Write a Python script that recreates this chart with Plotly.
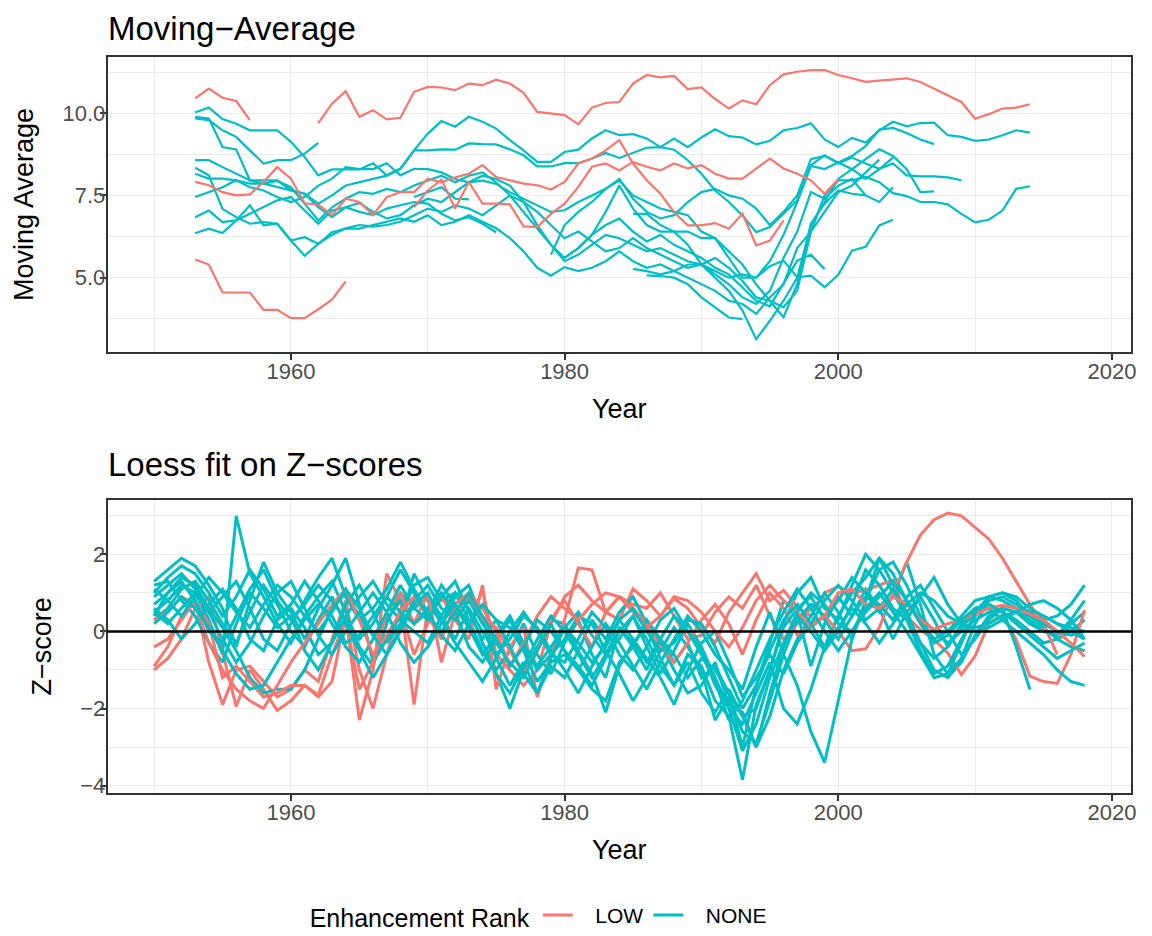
import plotly.graph_objects as go

# colours of the two ranks (ggplot default hue palette)
LOW_COLOR = "#F8766D"
NONE_COLOR = "#00BFC4"

# -------------------------------
# Moving average series (start year, values), None = gap
# -------------------------------
ma_low_a_start = 1953
ma_low_a = [10.45, 10.75, 10.47, 10.37, 9.79, None, None, None, None, 9.70,
            10.29, 10.67, 9.89, 10.09, 9.81, 9.86, 10.65, 10.80, 10.78, 10.70,
            10.90, 10.85, 11.02, 10.90, 10.62, 10.04, 9.99, 9.94, 9.66, 10.17,
            10.31, 10.34, 10.90, 11.16, 11.09, 11.13, 10.73, 10.78, 10.43, 10.14,
            10.39, 10.27, 10.85, 11.18, 11.26, 11.31, 11.31, 11.16, 11.06, 10.95,
            10.99, 11.02, 11.06, 10.95, 10.75, 10.55, 10.34, 9.83, 9.97, 10.14,
            10.17, 10.27]
ma_low_b_start = 1953
ma_low_b = [5.55, 5.40, 4.55, 4.55, 4.55, 4.02, 4.02, 3.77, 3.77, 4.04, 4.33, 4.89]
ma_low_c_start = 1953
ma_low_c = [7.91, 7.81, 7.60, 7.50, 7.53, 7.91, 8.36, 8.01, 7.26, 7.22,
            6.90, 7.40, 7.30, 6.90, 7.45, 7.60, 7.60, 8.01, 7.90, 8.05,
            8.16, 8.42, 8.06, 7.96, 7.86, 7.81, 7.68, 7.91, 8.47, 8.62,
            8.87, 9.18, 8.47, 7.96, 7.55, 6.99, 6.59, 6.59, 6.66, 6.49,
            6.94, 5.98, 6.13, 6.74]
ma_low_d_start = 1969
ma_low_d = [7.14, 7.65, 7.98, 7.10, 7.91, 7.25, 7.25, 7.23, 6.56, 6.54,
            6.94, 7.25, 7.76, 8.37, 8.47, 8.26, 8.52, 8.37, 8.26, 8.47,
            8.32, 8.42, 8.16, 8.01, 8.01, 8.32, 8.62, 8.32, 8.16, 7.96,
            7.55, 7.99]

ma_none_a_start = 1953
ma_none_a = [10.02, 10.17, 9.82, 9.68, 9.48, 9.48, 9.48, 9.13, 8.67, 8.11,
             8.29, 8.29, 8.29, 8.48, 8.11, 8.31, 8.87, 8.87, 8.90, 8.89,
             9.08, 9.06, 9.05, 8.90, 8.72, 8.38, 8.38, 8.48, 8.48, 8.62,
             8.79, 8.64, 8.79, 8.95, 8.97, 8.89, 8.57, 8.16, 7.65, 7.30,
             6.89, 6.38, 6.54, 6.94, 7.35, 8.42, 8.72, 8.47, 8.65, 8.47,
             8.31, 8.47, 8.11, 8.08, 8.08, 8.05, 7.96]
ma_none_b_start = 1953
ma_none_b = [9.89, 9.84, 8.97, 8.90, 7.96, 7.96, 7.96, 7.65, 7.55, 7.25,
             7.50, 7.80, 7.90, 8.00, 8.10, 8.31, 8.87, 9.38, 9.76, 9.59,
             9.89, 9.74, 9.53, 9.18, 8.87, 8.52, 8.52, 8.82, 8.89, 9.23,
             9.48, 9.33, 9.36, 9.23, 8.97, 9.23, 8.97, 9.26, 9.51, 9.30,
             9.26, 9.05, 9.16, 9.48, 9.55, 9.69, 9.20, 8.97, 9.25, 9.11,
             9.48, 9.74, 9.60, 9.70, 9.71, 9.33, 9.28, 9.16, 9.20, 9.33,
             9.48, 9.41]
ma_none_c_start = 1953
ma_none_c = [9.84, 9.79, 9.48, 9.28, 8.87, 8.47, 8.57, 8.57, 8.77, 9.10]
ma_none_d_start = 1953
ma_none_d = [8.57, 8.57, 8.36, 8.16, 7.96, 7.86, 7.75, 7.65, 7.55, 7.14,
             6.84, 7.14, 7.00, 6.90, 7.10, 7.20, 7.30, 7.25, 6.94, 6.74,
             6.84, 6.64, 6.38]
ma_none_e_start = 1953
ma_none_e = [8.34, 8.11, 7.09, 6.84, 6.64, 6.69, 6.64, 6.13, 6.23, 6.03,
             6.30, 6.50, 6.60, 6.55, 6.60, 6.70, 6.90, 7.10, 7.00, 7.20,
             7.10, 6.90, 7.20, 7.50, 7.30, 7.00, 6.60, 6.20, 6.40, 6.10,
             5.80, 5.90, 6.20, 5.90, 5.70, 5.50, 5.30, 5.40, 5.20, 5.00,
             5.10, 5.00, 5.35, 5.52, 5.01, 5.06, 4.71, 5.09, 5.82, 5.94,
             6.59, 6.76]
ma_none_f_start = 1953
ma_none_f = [8.16, 8.01, 8.01, 7.96, 7.86, 7.86, 7.94, 7.75, 7.25, 6.74,
             7.14, 7.40, 7.60, 7.55, 7.70, 7.60, 7.80, 7.95, 8.10, 7.90,
             8.10, 8.20, 7.90, 7.50, 7.00, 6.50, 6.00, 5.50, 5.70, 6.00,
             6.30, 6.20, 6.00, 5.80, 5.90, 5.70, 5.50, 5.40, 5.60, 5.30,
             4.90, 4.40, 4.30, 3.79, 4.81, 6.64, 7.25, 7.65, 7.55, 7.50]
ma_none_g_start = 1953
ma_none_g = [7.45, 7.60, 7.75, 7.96, 7.75, 7.65, 7.45, 7.30, 7.45, 7.80,
             8.01, 8.36, 8.30, 8.30, 8.48, 8.11, 8.31, 8.30, 8.20, 8.00,
             7.90, 7.95, 7.85, 7.60, 7.40, 7.20, 7.00, 7.05, 7.30, 7.50,
             7.70, 7.95, 7.50, 7.30, 7.10, 7.00, 6.90, 6.40, 6.20, 5.80,
             5.40, 4.80, 4.30, 4.10, 4.60, 6.40, 7.50, 7.96, 7.96, 8.06,
             7.90, 7.57, 7.48, 7.30, 7.30, 7.23, 6.94, 6.68, 6.76, 7.04,
             7.70, 7.78]
ma_none_h_start = 1953
ma_none_h = [6.84, 7.04, 6.69, 6.74, 6.94, 7.14, 7.35, 7.45, 7.04, 6.64,
             7.04, 7.14, 7.27, 7.00, 6.80, 6.90, 7.20, 7.40, 7.30, 7.60,
             7.90, 8.10, 8.00, 7.80, 7.30, 6.60, 6.00, 5.60, 5.90, 6.30,
             6.60, 6.80, 6.40, 6.10, 6.30, 6.00, 5.80, 5.60, 5.30, 5.10,
             4.70, 4.30, 4.13, 4.81, 5.52, 5.70, 5.26]
ma_none_i_start = 1953
ma_none_i = [6.35, 6.49, 6.36, 6.74, 7.20, 6.59, 6.64, 6.13, 5.67, 6.03,
             6.38, 6.49, 6.49, 6.60, 6.70, 6.80, 6.70, 6.90, 6.60, 6.70,
             6.90, 6.70, 6.50, 6.20, 5.80, 5.30, 5.06, 5.32, 5.20, 5.30,
             5.50, 5.80, 5.50, 5.30, 5.40, 5.20, 5.00, 4.80, 4.60, 4.30,
             4.20, 3.90, 4.40, 4.80, 5.90, 6.40, 7.00, 7.60, 7.80, 8.20,
             8.59]
ma_none_j_start = 1969
ma_none_j = [7.45, 7.60, 7.75, 7.40, 7.38]
ma_none_k_start = 1979
ma_none_k = [5.70, 6.60, 7.00, 7.30, 7.70, 8.00, 7.40, 7.00, 6.80, 6.90,
             7.30, 7.60, 7.70, 7.50, 7.40, 7.10, 6.60, 7.00, 7.50, 8.60,
             8.70, 8.50, 8.70, 9.00, 9.50, 9.55, 9.40, 9.20, 9.06]
ma_none_l_start = 1980
ma_none_l = [5.60, 5.90, 6.30, 7.00, 7.80, 7.10, 6.60, 6.40, 6.40, 6.40,
             6.20, 6.20, 5.60, 5.00, 5.00, 5.50, 6.30, 7.30, 8.40, 8.30,
             8.50, 8.30, 8.60, 8.90, 8.70, 8.30, 7.60, 7.62]
ma_none_m_start = 1985
ma_none_m = [5.27, 5.20, 5.10, 5.20, 5.40, 5.40, 5.10, 4.80, 4.40, 4.20,
             4.60, 5.60, 6.40, 7.60, 7.40, 7.80, 8.00, 7.50, 7.30, 7.75]
ma_none_n_start = 1986
ma_none_n = [5.07, 5.05, 5.00, 4.80, 4.40, 4.10, 3.79, 3.74]
ma_none_o_start = 1985
ma_none_o = [6.94, 6.94, 6.60, 6.40, 6.00, 5.40, 5.00, 4.60, 4.00, 3.13,
             3.69, 4.30, 5.00, 6.60, 7.30, 8.00, 8.30, 8.00, 8.30, 8.65]

# -------------------------------
# Loess fits on z-scores (start year, values)
# -------------------------------
zs_low_a_start = 1950
zs_low_a = [-1.0, -0.7, -0.2, 0.6, 0.9, -0.5, -1.95, -1.0, -1.5, -2.05,
            -1.8, -1.4, -1.7, -1.3, 0.4, -2.3, -1.0, 1.5, 0.8, -1.9,
            0.6, 0.9, 0.3, -0.2, 1.2, -1.5, -0.4, 0.1, -1.7, -0.6,
            0.3, 1.65, 1.6, 0.5, 0.3, 1.1, 0.8, 0.4, 0.85, 0.6,
            0.1, -0.3, 0.5, 1.0, 1.5, 0.8, 1.07, 0.64, 0.39, 1.0,
            1.16, 0.99, 1.07, 1.2, 1.33, 0.39, 0.04, -0.21, -0.56, -1.12,
            -0.64, 0.21, 0.43, -0.21, -1.16, -1.3, -1.35, -0.6, 0.55]
zs_low_b_start = 1950
zs_low_b = [-0.4, -0.2, 0.3, 0.8, 0.2, -1.2, -0.9, -1.3, -1.7, -1.6,
            -1.4, -1.4, -1.65, -0.6, 0.3, -1.5, -0.8, 0.5, 1.0, 0.2,
            1.0, -0.8, 0.5, 0.9, 0.3, 0.1, -0.5, -1.1, -0.5, 0.3,
            0.8, 0.2, -0.4, 0.5, 0.9, 0.6, 0.2, -0.4, -0.8, -0.3,
            0.3, 0.7, 0.2, -0.6, 0.3, 1.0, 0.6, -0.1, 0.2, 0.4,
            0.0, -0.5, -0.45, 0.1, 1.0, 1.8, 2.5, 2.9, 3.07, 3.0,
            2.7, 2.4, 1.9, 1.3, 0.7, 0.2, -0.6]
zs_low_c_start = 1950
zs_low_c = [0.3, 0.5, 0.9, 0.7, -0.3, -1.0, -1.5, -1.8, -2.0, -1.4,
            -0.8, -0.3, 0.2, 0.7, 1.1, 0.3, -0.6, -0.1, 0.5, 0.9,
            0.4, -0.2, 0.7, 1.0, 0.6, 0.0, -0.9, -0.3, 0.4, 0.9,
            0.6, 0.3, 0.7, 1.0, 0.9, 0.5, 0.1, 0.4, 0.9, 0.8,
            0.5, 0.0, -0.4, 0.1, 0.8, 1.2, 0.8, 0.5, 0.1, 0.4,
            1.0, 1.1, 0.7, 0.6, 0.9, 0.7, 0.3, 0.05, 0.2, 0.3,
            0.45, 0.6, 0.68, 0.6, 0.45, 0.3, 0.0, -0.3, -0.65]
zs_low_d_start = 1950
zs_low_d = [-0.9, -0.4, 0.4, 0.8, -0.8, -1.9, -1.0, -0.9, -1.3, -1.7,
            -1.5, -1.0, -1.3, -0.2, 0.8, -1.0, -2.0, -0.6, 0.6, -0.6,
            0.2, 1.0, 0.6, 0.1, 1.1, -0.6, -1.0, -1.4, -1.0, 0.2,
            0.9, 1.2, 0.8, 0.5, 0.9, 0.7, 0.6, 1.0, 0.4, -0.2,
            -0.1, 0.5, 0.9, 0.6, 1.2, 0.4, -0.2, 0.2, 0.6, 0.9]

zs_none_1 = [0.5, 0.8, 1.2, 1.0, 0.3, -0.6, 3.0, 1.5, 0.9, 0.2,
             -0.3, 0.4, 0.9, 1.3, 0.5, -0.4, -0.9, 0.2, 1.0, 0.6,
             0.9, 0.4, -0.2, 0.6, -0.3, -1.0, -0.5, 0.2, -0.6, -1.1,
             -0.3, 0.3, -0.6, -1.2, 0.1, -0.4, -1.0, -0.2, -0.8, -0.3,
             -1.2, -0.9, -1.6, -3.0, -1.4, -0.3, 0.8, 0.5, -0.9, 0.2,
             0.9, 0.4, 1.1, 0.6, -0.2, 0.5, 0.9, 0.3, -0.4, 0.2,
             0.6, 0.7, 0.5, 0.3, 0.0, -0.3, -0.2, 0.0, 0.3]
zs_none_2 = [1.3, 1.6, 1.9, 1.7, 1.2, 0.6, -0.4, 0.8, 1.8, 1.0,
             0.5, -0.2, 0.6, 1.2, 1.9, 0.7, -0.8, -0.2, 0.4, 1.2,
             1.4, 0.8, 1.0, 0.3, -0.5, -1.1, -2.0, -1.0, -0.4, 0.3,
             0.2, -0.5, -1.1, -2.1, -0.9, -0.3, 0.1, -0.7, -1.4, -0.6,
             -0.9, -1.8, -2.2, -3.85, -1.9, -1.0, 0.2, 1.0, 1.4, 0.6,
             0.3, 1.2, 2.0, 1.6, 1.0, 0.4, -0.3, -1.0, -1.2, -0.8,
             -0.1, 0.4, 0.6, 0.5, 0.2, 0.0, -0.1, 0.2, 0.5]
zs_none_3 = [0.4, 1.0, 1.4, 1.2, 0.6, 0.1, -0.5, -1.2, -1.6, -1.5,
             -1.5, -1.0, -0.2, 0.6, 1.0, 0.4, -0.1, 0.3, 0.8, 0.2,
             0.6, 1.0, 0.5, -0.4, -0.8, -0.2, 0.3, -0.4, -1.0, -0.6,
             -0.2, 0.4, 0.2, -0.5, -1.1, -1.8, -1.2, -0.5, 0.1, -0.4,
             -1.0, -2.3, -1.7, -2.6, -2.9, -1.8, -0.6, 0.3, 0.7, 0.4,
             0.8, 1.4, 1.0, 0.5, 0.9, 1.8, 0.7, -0.6, -1.1, -0.7,
             0.2, 0.8, 0.9, 0.7, 0.5, 0.3, 0.4, 0.7, 1.2]
zs_none_4 = [1.2, 1.3, 0.8, 0.4, -0.3, -0.8, 0.2, 1.0, 0.6, 0.1,
             0.4, -0.5, -1.0, -0.3, 0.7, 1.2, 0.5, -0.3, 0.2, 1.5,
             0.8, 0.2, 0.9, 1.2, 0.3, -0.7, -1.4, -0.8, -1.6, -0.9,
             -1.2, -0.5, 0.3, -0.2, 0.5, 0.9, 0.2, -0.3, -1.0, -1.6,
             -1.4, -0.8, -1.9, -2.1, -3.0, -2.2, -1.0, -0.2, 0.4, 1.0,
             0.5, -0.2, 0.8, 1.9, 1.2, 0.3, -0.5, -1.1, -0.9, -0.2,
             0.4, 0.9, 1.0, 0.8, 0.4, 0.1, -0.2, -0.4, -0.5]
zs_none_5 = [0.9, 1.2, 1.5, 1.1, 0.5, 0.9, 1.3, 0.6, -0.2, -0.5,
             0.2, 0.8, 1.4, 1.9, 0.9, 0.3, 0.6, 1.1, 1.8, 1.1,
             0.5, 1.2, 0.7, 0.1, -0.6, -0.1, 0.4, -0.3, -0.9, -0.4,
             0.1, 0.5, -0.1, -0.6, -0.2, 0.4, -0.4, -1.1, -0.5, 0.2,
             -0.4, -1.2, -2.0, -2.4, -1.6, -0.8, -2.0, -2.4, -1.5, -0.4,
             0.4, 1.0, 1.4, 1.9, 1.5, 0.8, 0.3, -0.2, 0.0, 0.4,
             0.8, 0.9, 0.8, 0.6, 0.5, 0.4, 0.2, 0.0, -0.2]
zs_none_6 = [0.3, 0.6, 1.1, 1.3, 0.8, 0.2, -0.3, 0.5, 1.2, 0.7,
             0.0, -0.4, 0.3, 0.9, 0.2, -0.5, -1.2, -0.6, 0.1, 0.8,
             1.2, 0.6, 0.3, 0.8, 0.2, -0.3, -0.8, -1.2, -0.5, 0.2,
             -0.5, -1.0, -0.4, 0.2, -0.3, -0.9, -1.5, -0.8, -0.2, 0.4,
             0.0, -0.6, -1.0, -1.5, -0.4, 0.5, -0.6, -1.4, -2.6, -3.4,
             -1.8, -0.2, 0.8, 1.6, 1.8, 1.2, 0.4, 0.0, -0.3, 0.0,
             0.3, 0.5, 0.6, 0.5, 0.4, 0.2, 0.0, -0.1, 0.0]
zs_none_7 = [1.0, 1.4, 1.7, 1.5, 1.0, 0.4, 0.9, 1.6, 1.1, 0.4,
             0.7, 1.3, 0.8, 0.2, -0.4, -0.8, -0.2, 0.5, 1.2, 0.6,
             0.3, 0.9, 1.3, 0.5, -0.2, 0.3, 0.1, -0.5, -1.3, -0.8,
             -0.6, -1.0, -1.5, -1.8, -0.8, -0.4, 0.3, -0.2, -0.6, -1.2,
             -0.7, -1.0, -1.6, -2.2, -2.0, -1.0, 0.1, 0.6, 0.9, 0.3,
             -0.2, 0.4, 0.9, 0.7, 0.3, 0.9, 1.2, 0.6, 0.0, -0.6,
             -0.2, 0.3, 0.6, -0.4, -1.5]
zs_none_8 = [0.6, 0.3, -0.2, 0.2, 0.7, 1.1, 0.6, -0.2, -0.5, 0.3,
             0.6, 0.1, -0.6, -0.3, 0.4, 0.9, 1.3, 0.7, 0.3, 0.0,
             -0.3, 0.4, 1.0, 0.6, 0.0, -0.6, -0.2, 0.4, 0.1, -0.5,
             -1.0, -1.6, -0.9, -0.3, 0.3, -0.2, -0.7, -1.2, -1.9, -1.0,
             -0.3, 0.0, -0.8, -1.7, -1.2, -0.6, -1.1, -0.3, 0.2, 0.8,
             1.2, 0.8, 0.3, 0.6, 1.1, 0.5, -0.3, -0.7, -0.4, 0.1,
             0.5, 0.6, 0.3, 0.0, -0.3, -0.6, -1.0, -1.3, -1.4]
zs_none_9 = [0.2, 0.5, 0.9, 0.6, 0.1, -0.5, -1.1, -1.5, -1.4, -0.8,
             -0.2, 0.3, 0.7, 0.4, -0.3, -0.1, 0.4, 0.9, 0.5, 0.2,
             0.5, -0.1, -0.5, 0.2, 0.7, 0.3, -0.4, -1.1, -1.6, -0.7,
             0.1, -0.3, -0.8, -0.4, 0.3, 0.6, 0.0, -0.5, -0.3, 0.3,
             0.2, -0.4, -1.2, -2.0, -1.4, -0.5, 0.3, 0.7, 0.2, -0.4,
             0.1, 0.6, 0.2, -0.3, 0.2, 0.7, 1.0, 0.8, 0.4, 0.2,
             0.1, 0.2, 0.4, 0.5, 0.3, 0.0, -0.1, 0.3, 0.8]
zs_none_10 = [1.1, 0.8, 0.4, 0.9, 1.4, 1.0, 0.5, 0.1, 0.7, 1.2,
              0.9, 0.4, 0.0, 0.5, 1.1, 0.6, -0.1, -0.6, 0.0, 0.7,
              1.0, 0.3, -0.3, -0.8, -1.3, -0.7, 0.0, 0.5, 0.0, -0.6,
              -0.8, -0.2, 0.5, 0.1, -0.6, -1.0, -0.4, 0.3, 0.6, 0.0,
              -0.5, -1.4, -2.0, -3.1, -2.4, -1.2, -0.3, 0.5, 1.0, 0.7,
              0.2, 0.0, 0.6, 1.0, 0.5, 0.0, -0.6, -1.2, -1.1, -0.3,
              0.5, 0.9, 1.0, 0.9, 0.6, 0.4, 0.2, 0.1, 0.0]
zs_none_11 = [0.7, 1.0, 1.3, 0.8, 0.0, -0.3, 0.4, 1.1, 1.6, 0.8,
              0.3, 0.7, 1.2, 0.8, 0.3, -0.2, 0.2, 0.9, 1.6, 1.0,
              0.4, 0.0, 0.5, 1.0, 0.4, -0.2, -0.9, -0.4, 0.3, 0.0,
              -0.5, -0.9, -1.4, -0.7, 0.0, 0.4, -0.2, -0.9, -1.4, -0.8,
              -1.6, -2.1, -1.5, -2.2, -3.0, -1.6, -0.4, 0.4, 0.0, -0.5,
              0.0, 0.7, 1.6, 1.2, 0.6, 0.3, 0.9, 1.4, 0.7, 0.2,
              0.0, 0.1, 0.3, 0.5, 0.7, 0.8, 0.6, 0.3, -0.2]
zs_none_12 = [0.5, 0.2, 0.6, 1.0, 0.5, -0.2, -0.8, -0.3, 0.4, 1.0,
              1.3, 0.6, -0.1, -0.6, 0.0, 0.5, 1.0, 0.5, -0.3, -0.8,
              -0.4, 0.2, 0.7, 0.2, -0.5, -1.1, -1.6, -0.9, -0.2, 0.4,
              0.0, -0.6, -1.2, -0.6, 0.1, -0.3, -0.8, -0.2, 0.4, 0.0,
              -0.6, -1.3, -2.3, -1.8, -1.0, -0.2, 0.5, 1.1, 0.6, 0.0,
              -0.5, 0.0, 0.5, 0.9, 1.3, 0.8, 0.2, -0.3, -0.1, 0.3,
              0.6, 0.7, 0.5, 0.2, -0.1, -0.4, -0.7, -0.5, -0.3]
ZS_START = 1950

# -------------------------------
# series tables (rank, start year, values)
# -------------------------------
MA_SERIES = [
    ("NONE", ma_none_a_start, ma_none_a), ("NONE", ma_none_b_start, ma_none_b),
    ("NONE", ma_none_c_start, ma_none_c), ("NONE", ma_none_d_start, ma_none_d),
    ("NONE", ma_none_e_start, ma_none_e), ("NONE", ma_none_f_start, ma_none_f),
    ("NONE", ma_none_g_start, ma_none_g), ("NONE", ma_none_h_start, ma_none_h),
    ("NONE", ma_none_i_start, ma_none_i), ("NONE", ma_none_j_start, ma_none_j),
    ("NONE", ma_none_k_start, ma_none_k), ("NONE", ma_none_l_start, ma_none_l),
    ("NONE", ma_none_m_start, ma_none_m), ("NONE", ma_none_n_start, ma_none_n),
    ("NONE", ma_none_o_start, ma_none_o),
    ("LOW", ma_low_a_start, ma_low_a), ("LOW", ma_low_b_start, ma_low_b),
    ("LOW", ma_low_c_start, ma_low_c), ("LOW", ma_low_d_start, ma_low_d),
]

ZS_SERIES = [
    ("LOW", zs_low_d_start, zs_low_d),
    ("NONE", ZS_START, zs_none_1), ("NONE", ZS_START, zs_none_2),
    ("LOW", zs_low_a_start, zs_low_a),
    ("NONE", ZS_START, zs_none_3), ("NONE", ZS_START, zs_none_4),
    ("NONE", ZS_START, zs_none_5),
    ("LOW", zs_low_b_start, zs_low_b),
    ("NONE", ZS_START, zs_none_6), ("NONE", ZS_START, zs_none_7),
    ("NONE", ZS_START, zs_none_8),
    ("LOW", zs_low_c_start, zs_low_c),
    ("NONE", ZS_START, zs_none_9), ("NONE", ZS_START, zs_none_10),
    ("NONE", ZS_START, zs_none_11), ("NONE", ZS_START, zs_none_12),
]

COLORS = {"LOW": LOW_COLOR, "NONE": NONE_COLOR}
RANK_ORDER = {"LOW": 1, "NONE": 2}
# legend labels (leading spaces widen the key-to-label gap like ggplot)
LEGEND_LABELS = {"LOW": "   LOW", "NONE": "   NONE"}

FONT = "Liberation Sans, Arial, Helvetica, sans-serif"

# the page body has an 8px margin; positions below are page pixels.
# The figure is taller than the window so the legend never pushes the margins.
OFF = 8
W, H = 1152, 960


def px_x(p):
    return (p - OFF) / W


def px_y(p):
    return (H - (p - OFF)) / H


fig = go.Figure()

# -------------------------------
# top panel: moving averages
# -------------------------------
for rank, start, vals in MA_SERIES:
    fig.add_trace(go.Scatter(
        x=list(range(start, start + len(vals))),
        y=vals,
        mode="lines",
        line=dict(color=COLORS[rank], width=2.2),
        name=LEGEND_LABELS[rank],
        legendgroup=rank,
        showlegend=False,
        connectgaps=False,
        xaxis="x", yaxis="y",
    ))

# -------------------------------
# bottom panel: loess on z-scores
# -------------------------------
shown = set()
for rank, start, vals in ZS_SERIES:
    fig.add_trace(go.Scatter(
        x=list(range(start, start + len(vals))),
        y=vals,
        mode="lines",
        line=dict(color=COLORS[rank], width=3.0),
        name=LEGEND_LABELS[rank],
        legendgroup=rank,
        legendrank=RANK_ORDER[rank],
        showlegend=rank not in shown,
        xaxis="x2", yaxis="y2",
    ))
    shown.add(rank)

# zero reference line
fig.add_shape(type="line", xref="x2 domain", x0=0, x1=1, yref="y2", y0=0, y1=0,
              line=dict(color="black", width=2.4), layer="above")

GRID = "#EBEBEB"
x_common = dict(
    domain=[px_x(108), px_x(1136)],
    range=[1946.6, 2021.4],
    tickvals=[1960, 1980, 2000, 2020],
    showgrid=True, gridcolor=GRID, gridwidth=1.3,
    minor=dict(tickvals=[1950, 1970, 1990, 2010], showgrid=True,
               gridcolor=GRID, gridwidth=0.7, ticks=""),
    ticks="outside", ticklen=6, tickwidth=1.6, tickcolor="#333333",
    tickfont=dict(size=22, color="#4D4D4D", family=FONT),
    ticklabelstandoff=-7,
    showline=True, mirror=True, linecolor="#333333", linewidth=1.6,
    zeroline=False,
    title=dict(text="Year", font=dict(size=27, color="black", family=FONT), standoff=16),
)
y_common = dict(
    showgrid=True, gridcolor=GRID, gridwidth=1.3,
    ticks="outside", ticklen=6, tickwidth=1.6, tickcolor="#333333",
    tickfont=dict(size=22, color="#4D4D4D", family=FONT),
    ticklabelstandoff=-10,
    showline=True, mirror=True, linecolor="#333333", linewidth=1.6,
    zeroline=False,
)

fig.update_layout(
    width=W, height=H,
    margin=dict(l=0, r=0, t=0, b=0),
    paper_bgcolor="white", plot_bgcolor="white",
    font=dict(family=FONT, color="black"),
    xaxis=dict(x_common, anchor="y"),
    yaxis=dict(
        y_common, anchor="x",
        domain=[px_y(353.5), px_y(57.5)],
        range=[2.75, 11.7],
        tickvals=[5.0, 7.5, 10.0], ticktext=["5.0", "7.5", "10.0"],
        minor=dict(tickvals=[3.75, 6.25, 8.75, 11.25], showgrid=True,
                   gridcolor=GRID, gridwidth=0.7, ticks=""),
        title=dict(text="Moving Average", font=dict(size=27, color="black", family=FONT), standoff=21),
    ),
    xaxis2=dict(x_common, anchor="y2"),
    yaxis2=dict(
        y_common, anchor="x2",
        domain=[px_y(797.4), px_y(502.2)],
        range=[-4.2, 3.42],
        tickvals=[-4, -2, 0, 2],
        minor=dict(tickvals=[-3, -1, 1, 3], showgrid=True,
                   gridcolor=GRID, gridwidth=0.7, ticks=""),
        title=dict(text="Z\u2212score", font=dict(size=27, color="black", family=FONT), standoff=21),
    ),
    legend=dict(
        orientation="h",
        x=px_x(309), xanchor="left",
        y=px_y(921), yanchor="middle",
        title=dict(text="Enhancement Rank", font=dict(size=25, color="black", family=FONT)),
        font=dict(size=21, color="black", family=FONT),
        bgcolor="rgba(0,0,0,0)",
    ),
    annotations=[
        dict(text="Moving\u2212Average", x=px_x(106), y=px_y(8), xref="paper", yref="paper",
             xanchor="left", yanchor="top", showarrow=False,
             font=dict(size=33, color="black", family=FONT)),
        dict(text="Loess fit on Z\u2212scores", x=px_x(106), y=px_y(467), xref="paper", yref="paper",
             xanchor="left", yanchor="middle", showarrow=False,
             font=dict(size=33, color="black", family=FONT)),
    ],
)

fig.write_html("out.html")
